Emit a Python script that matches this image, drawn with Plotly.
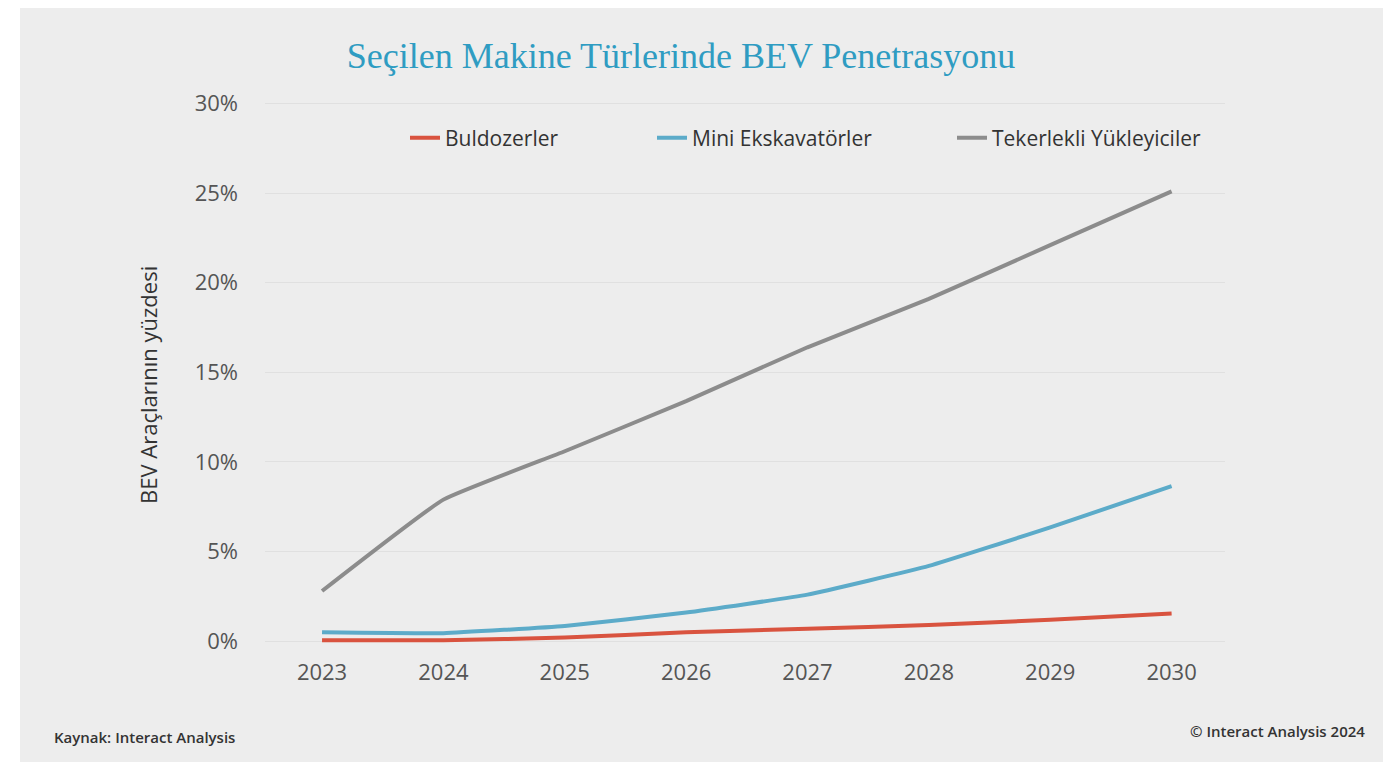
import plotly.graph_objects as go

years = [2023, 2024, 2025, 2026, 2027, 2028, 2029, 2030]
buldozer = [0.05, 0.05, 0.2, 0.5, 0.7, 0.9, 1.2, 1.55]
mini_eks = [0.5, 0.45, 0.85, 1.6, 2.6, 4.2, 6.35, 8.65]
tekerlekli = [2.8, 7.9, 10.6, 13.4, 16.4, 19.1, 22.1, 25.1]

names = ["Buldozerler", "Mini Ekskavatörler", "Tekerlekli Yükleyiciler"]
colors = ["#d9533f", "#5cabc9", "#8c8c8c"]
series = [buldozer, mini_eks, tekerlekli]
legends = ["legend", "legend2", "legend3"]

OFF = 8  # default page body margin
W, H = 1400 - OFF, 762 - OFF
# plot area in screen pixels
SL, SR, ST, SB = 265, 1225, 91, 643
L, R, T, B = SL - OFF, SR - OFF, ST - OFF, SB - OFF
pw, ph = R - L, B - T


def px(sx):
    return (sx - SL) / pw


def py(sy):
    return (SB - sy) / ph


fig = go.Figure()
for n, c, s, lg in zip(names, colors, series, legends):
    fig.add_trace(go.Scatter(x=years, y=s, name=n, mode="lines",
                             line=dict(color=c, width=4, shape="spline", smoothing=0.35),
                             legend=lg, hoverinfo="x+y+name"))

bg = "#ededed"
fig.add_shape(type="rect", xref="paper", yref="paper",
              x0=px(20), x1=px(1383), y0=py(775), y1=py(5),
              fillcolor=bg, line_width=0, layer="below")

font_sans = "Open Sans, Lato, sans-serif"
leg_common = dict(orientation="h", xref="paper", yref="paper",
                  yanchor="middle", xanchor="left", bgcolor="rgba(0,0,0,0)",
                  font=dict(family=font_sans, size=21, color="#333333"))
leg_x = [405, 652, 952]
leg_y = py(138)

fig.update_layout(
    width=W, height=H,
    paper_bgcolor="white", plot_bgcolor=bg,
    margin=dict(l=L, r=W - R, t=T, b=H - B, autoexpand=False),
    title=dict(text="Seçilen Makine Türlerinde BEV Penetrasyonu",
               font=dict(family="Liberation Serif, Times New Roman, serif", size=36, color="#2f9cc2"),
               x=(681 - OFF) / W, xanchor="center", y=1 - (55 - OFF) / H, yanchor="middle",
               xref="container", yref="container"),
    xaxis=dict(range=[2022.53, 2030.44], tickvals=years, ticktext=[str(y) for y in years],
               showgrid=False, zeroline=False, showline=False, ticks="", automargin=False,
               ticklabelstandoff=14,
               tickfont=dict(family=font_sans, size=22, color="#555555")),
    yaxis=dict(range=[-0.1, 30.7], tickvals=[0, 5, 10, 15, 20, 25, 30],
               ticktext=["0%", "5%", "10%", "15%", "20%", "25%", "30%"],
               showgrid=True, gridcolor="#e0e0e0", gridwidth=1, zeroline=False,
               showline=False, ticks="", ticklabelstandoff=26, automargin=False,
               tickfont=dict(family=font_sans, size=22, color="#555555")),
    legend=dict(x=px(leg_x[0]), y=leg_y, **leg_common),
    legend2=dict(x=px(leg_x[1]), y=leg_y, **leg_common),
    legend3=dict(x=px(leg_x[2]), y=leg_y, **leg_common),
    showlegend=True,
)

fig.add_annotation(text="BEV Araçlarının yüzdesi", xref="paper", yref="paper",
                   x=px(148), y=py(385), textangle=-90,
                   xanchor="center", yanchor="middle", showarrow=False,
                   font=dict(family=font_sans, size=22, color="#333333"))
fig.add_annotation(text="Kaynak: Interact Analysis", xref="paper", yref="paper",
                   x=px(52), y=py(737), xanchor="left", yanchor="middle",
                   showarrow=False, font=dict(family=font_sans, size=15, color="#333333", weight=600))
fig.add_annotation(text="© Interact Analysis 2024", xref="paper", yref="paper",
                   x=px(1367), y=py(731), xanchor="right", yanchor="middle",
                   showarrow=False, font=dict(family=font_sans, size=15, color="#333333", weight=600))

fig.write_html("out.html")
